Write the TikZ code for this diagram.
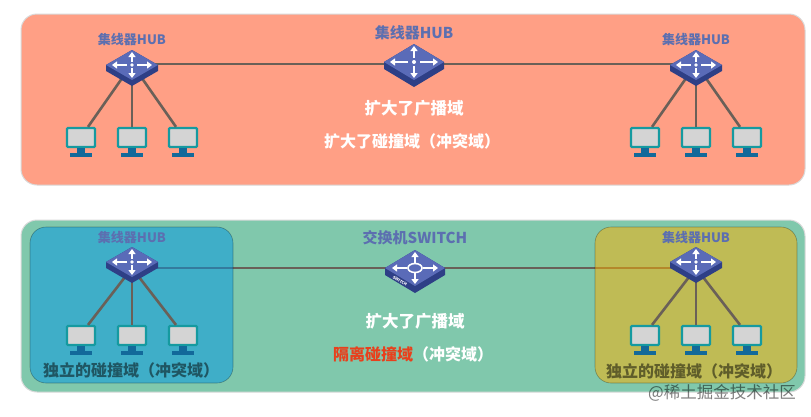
\documentclass[tikz,border=0pt]{standalone}
\usepackage{fontspec}
\setmainfont{Noto Sans CJK SC}
\usetikzlibrary{arrows.meta}

\definecolor{topfill}{HTML}{FF9F85}
\definecolor{lowfill}{HTML}{80C8AC}
\definecolor{bluefill}{HTML}{0096E4}
\definecolor{yellowfill}{HTML}{FFB000}
\definecolor{hubblue}{HTML}{5A6BB8}
\definecolor{hubdark}{HTML}{2E3F86}
\definecolor{wirecol}{HTML}{6A6058}
\definecolor{pcteal}{HTML}{159AA0}
\definecolor{pcbase}{HTML}{12699A}
\definecolor{labelcol}{HTML}{5C6FB0}
\definecolor{redtext}{HTML}{E8401C}

\tikzset{
  panel/.style={rounded corners=16pt,line width=1pt,draw=black!15},
  subpanel/.style={rounded corners=16pt,fill opacity=0.5,draw opacity=0.3,draw=black,line width=0.6pt},
  wire/.style={wirecol,line width=2.6pt},
  hublabel/.style={text=labelcol,font=\bfseries\fontsize{13}{15}\selectfont},
  biglabel/.style={text=labelcol,font=\bfseries\fontsize{15}{17}\selectfont},
  whitetext/.style={text=white,font=\bfseries\fontsize{16.5}{18}\selectfont},
  widetext/.style={text=white,font=\bfseries\fontsize{16}{18}\selectfont},
  domaintext/.style={text=black,text opacity=0.5,font=\bfseries\fontsize{16}{18}\selectfont},
  marktext/.style={text=black,text opacity=0.5,font=\fontsize{16.5}{18}\selectfont},
  pcbox/.style={draw=pcteal,fill=black!17,line width=2.2pt,rounded corners=1pt,minimum width=28pt,minimum height=19pt,inner sep=0pt},
  arrowmark/.style={white,line width=2pt,-{Triangle[length=5pt,width=7pt]}},
  pics/hubicon/.style={code={
    \fill[hubdark] (-26,0)--(0,-15)--(26,0)--(26,6)--(0,21)--(-26,6)--cycle;
    \fill[hubblue] (-26,0)--(0,-15)--(26,0)--(0,15)--cycle;
    \draw[arrowmark] (-5,0)--(-20,0);
    \draw[arrowmark] (5,0)--(20,0);
    \draw[arrowmark] (0,-3)--(0,-13);
    \draw[arrowmark] (0,3)--(0,13);
    \fill[white] (0,0) circle (1.8);
  }},
  pics/widehubicon/.style={code={
    \fill[hubdark] (-30,0)--(0,-18)--(30,0)--(30,7)--(0,25)--(-30,7)--cycle;
    \fill[hubblue] (-30,0)--(0,-18)--(30,0)--(0,18)--cycle;
    \draw[arrowmark] (-6,0)--(-24,0);
    \draw[arrowmark] (6,0)--(24,0);
    \draw[arrowmark] (0,-4)--(0,-16);
    \draw[arrowmark] (0,4)--(0,16);
    \fill[white] (0,0) circle (2);
  }},
  pics/switchicon/.style={code={
    \fill[hubdark] (-30,0)--(0,-18)--(30,0)--(30,7)--(0,25)--(-30,7)--cycle;
    \fill[hubblue] (-30,0)--(0,-18)--(30,0)--(0,18)--cycle;
    \draw[arrowmark] (-8,0)--(-23,0);
    \draw[arrowmark] (8,0)--(23,0);
    \draw[arrowmark] (0,-5)--(0,-16);
    \draw[arrowmark] (0,5)--(0,16);
    \draw[white,line width=1.6pt] (0,0) ellipse (7 and 4.5);
    \node[white,font=\bfseries\fontsize{4}{5}\selectfont,rotate=-31] (-tag) at (-15,13) {SWITCH};
  }},
  pics/pcunit/.style={code={
    \node[pcbox] (-screen) at (0,0) {};
    \fill[pcbase] (-4,10) rectangle (4,15);
    \fill[pcbase] (-11,15) rectangle (11,19.5);
  }}
}

\begin{document}
\begin{tikzpicture}[x=1pt,y=-1pt]
\useasboundingbox (0,0) rectangle (811,416);
\fill[white] (0,0) rectangle (811,416);

% upper network
\draw[panel,fill=topfill] (21,14) rectangle (805,185);

\coordinate (hubA) at (132,64);
\coordinate (hubB) at (414,64);
\coordinate (hubC) at (696,64);

\draw[wire] (hubA)--(hubB);
\draw[wire] (hubB)--(hubC);

\pic (pcA1) at (81,137.5) {pcunit};
\pic (pcA2) at (132,137.5) {pcunit};
\pic (pcA3) at (183,137.5) {pcunit};
\pic (pcC1) at (645,137.5) {pcunit};
\pic (pcC2) at (696,137.5) {pcunit};
\pic (pcC3) at (747,137.5) {pcunit};

\draw[wire] (hubA)--([xshift=7pt]pcA1-screen.north);
\draw[wire] (hubA)--(pcA2-screen.north);
\draw[wire] (hubA)--([xshift=-7pt]pcA3-screen.north);
\draw[wire] (hubC)--([xshift=7pt]pcC1-screen.north);
\draw[wire] (hubC)--(pcC2-screen.north);
\draw[wire] (hubC)--([xshift=-7pt]pcC3-screen.north);

\pic at (132,65) {hubicon};
\pic at (414,62) {widehubicon};
\pic at (696,65) {hubicon};

\node[hublabel] (labA) at (132,40) {集线器HUB};
\node[biglabel] (labB) at (414,33) {集线器HUB};
\node[hublabel] (labC) at (696,40) {集线器HUB};

\node[whitetext] (topA) at (414,108) {扩大了广播域};
\node[widetext] (topB) at (412,141) {扩大了碰撞域（冲突域）};

% lower network
\draw[panel,fill=lowfill] (21,220) rectangle (805,392);

\coordinate (hubD) at (132,268);
\coordinate (swE) at (415,268);
\coordinate (hubF) at (696,268);

\draw[wire] (hubD)--(swE);
\draw[wire] (swE)--(hubF);

\draw[subpanel,fill=bluefill] (30,227) rectangle (233,383);
\draw[subpanel,fill=yellowfill] (595,227) rectangle (797,383);

\pic (pcD1) at (81,335.5) {pcunit};
\pic (pcD2) at (132,335.5) {pcunit};
\pic (pcD3) at (183,335.5) {pcunit};
\pic (pcF1) at (645,335.5) {pcunit};
\pic (pcF2) at (696,335.5) {pcunit};
\pic (pcF3) at (747,335.5) {pcunit};

\draw[wire] (hubD)--([xshift=7pt]pcD1-screen.north);
\draw[wire] (hubD)--(pcD2-screen.north);
\draw[wire] (hubD)--([xshift=-7pt]pcD3-screen.north);
\draw[wire] (hubF)--([xshift=7pt]pcF1-screen.north);
\draw[wire] (hubF)--(pcF2-screen.north);
\draw[wire] (hubF)--([xshift=-7pt]pcF3-screen.north);

\pic at (132,262) {hubicon};
\pic at (415,268) {switchicon};
\pic at (696,262) {hubicon};

\node[hublabel] (labD) at (132,238) {集线器HUB};
\node[biglabel] (labE) at (415,238) {交换机SWITCH};
\node[hublabel] (labF) at (696,238) {集线器HUB};

\node[whitetext] (lowA) at (415,321) {扩大了广播域};
\node[widetext] (lowB) at (413,354) {\textcolor{redtext}{隔离碰撞域}（冲突域）};

\node[domaintext] (domD) at (131,370) {独立的碰撞域（冲突域）};
\node[domaintext] (domF) at (694,371) {独立的碰撞域（冲突域）};

\node[marktext] (mark) at (722,393) {@稀土掘金技术社区};

\end{tikzpicture}
\end{document}
